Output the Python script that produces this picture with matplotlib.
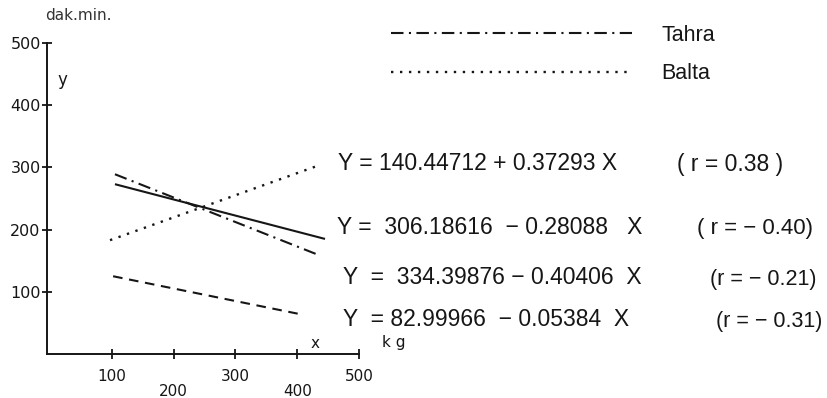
"""Regression lines for Tahra / Balta: dak.min. vs kg, with fitted equations."""

import matplotlib.pyplot as plt

W, H = 828, 398
INK = "#161616"

# line end points (x in kg, y in dak.min.)
SOLID_X = [105, 445]
SOLID_Y = [273, 185]
TAHRA_X = [105, 435]
TAHRA_Y = [289, 159]
BALTA_X = [97, 437]
BALTA_Y = [183, 304]
DASHED_X = [102, 405]
DASHED_Y = [125, 64]

Y_TICKS = [100, 200, 300, 400, 500]
X_TICKS = [100, 200, 300, 400, 500]
X_TICK_LABELS = ["100", "\n200", "300", "\n400", "500"]

EQUATIONS = [
    "Y = 140.44712 + 0.37293 X",
    "Y =  306.18616  − 0.28088   X",
    "Y  =  334.39876 − 0.40406  X",
    "Y  = 82.99966  − 0.05384  X",
]
R_LABELS = ["( r = 0.38 )", "( r = − 0.40)", "(r = − 0.21)", "(r = − 0.31)"]

# text anchors in pixels (left, centre) of the 828x398 canvas
EQ_POS = [(338, 164), (337, 227), (343, 278), (343, 320)]
R_POS = [(677, 165), (697, 228), (710, 280), (716, 322)]
R_SIZES = [16.5, 16, 15.5, 15.5]


def fx(x):
    return x / W


def fy(y):
    return 1 - y / H


def plot():
    fig = plt.figure(figsize=(W / 100, H / 100), dpi=100)
    ax = fig.add_axes([fx(47), fy(354), (359 - 47) / W, (354 - 43) / H])

    ax.plot(SOLID_X, SOLID_Y, color=INK, lw=1.5, solid_capstyle="butt")
    ax.plot(TAHRA_X, TAHRA_Y, color=INK, lw=1.5, dashes=(6, 2.6, 1, 2.6),
            label="Tahra")
    ax.plot(BALTA_X, BALTA_Y, color=INK, lw=1.7, dashes=(1, 2.8),
            label="Balta")
    ax.plot(DASHED_X, DASHED_Y, color=INK, lw=1.5, dashes=(4.6, 3.2))

    ax.set_xlim(-5, 500)
    ax.set_ylim(0, 500)
    for side in ("top", "right"):
        ax.spines[side].set_visible(False)
    for side in ("left", "bottom"):
        ax.spines[side].set_linewidth(1.4)
        ax.spines[side].set_color(INK)

    ax.set_yticks(Y_TICKS)
    ax.set_yticklabels([str(v) for v in Y_TICKS])
    ax.set_xticks(X_TICKS)
    ax.set_xticklabels(X_TICK_LABELS, linespacing=1.0)
    ax.tick_params(axis="y", direction="inout", length=7, width=1.3,
                   pad=1, labelsize=11.5, colors=INK)
    ax.tick_params(axis="x", direction="inout", length=7, width=1.3,
                   pad=7, labelsize=11, colors=INK)

    fig.text(fx(45), fy(15), "dak.min.", fontsize=11, color="#333333",
             va="center", ha="left")
    fig.text(fx(62), fy(80), "y", fontsize=12, color=INK, va="center",
             ha="center")
    fig.text(fx(315), fy(343), "x", fontsize=11, color=INK, va="center",
             ha="center")
    fig.text(fx(382), fy(343), "k g", fontsize=11, color=INK, va="center",
             ha="left")

    for s, (x, y) in zip(EQUATIONS, EQ_POS):
        fig.text(fx(x), fy(y), s, fontsize=16.5, family="Liberation Sans",
                 color=INK, va="center", ha="left")
    for s, (x, y), size in zip(R_LABELS, R_POS, R_SIZES):
        fig.text(fx(x), fy(y), s, fontsize=size, family="Liberation Sans",
                 color=INK, va="center", ha="left")

    fig.legend(loc="upper left", bbox_to_anchor=(fx(391), fy(25)),
               frameon=False, handlelength=11.2, handletextpad=1.35,
               labelspacing=0.8, borderpad=0, borderaxespad=0,
               prop={"family": "Liberation Sans", "size": 15.5},
               labelcolor=INK)

    fig.savefig("out.png", dpi=100)


if __name__ == "__main__":
    plot()
